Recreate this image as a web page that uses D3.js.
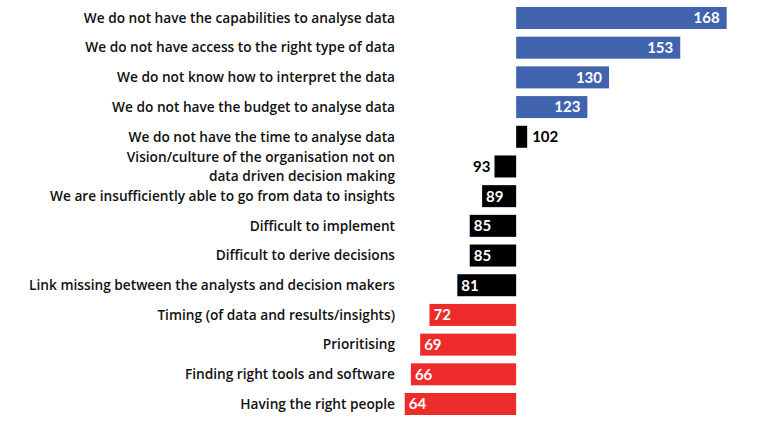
<!DOCTYPE html>
<html>
<head>
<meta charset="utf-8">
<script src="https://cdn.jsdelivr.net/npm/d3@7"></script>
<style>
  html, body { margin: 0; padding: 0; background: #ffffff; }
  svg { display: block; }
</style>
</head>
<body>
<svg id="chart" width="760" height="427"></svg>
<script>
const categories = [
  "We do not have the capabilities to analyse data",
  "We do not have access to the right type of data",
  "We do not know how to interpret the data",
  "We do not have the budget to analyse data",
  "We do not have the time to analyse data",
  "Vision/culture of the organisation not on|data driven decision making",
  "We are insufficiently able to go from data to insights",
  "Difficult to implement",
  "Difficult to derive decisions",
  "Link missing between the analysts and decision makers",
  "Timing (of data and results/insights)",
  "Prioritising",
  "Finding right tools and software",
  "Having the right people"
];
const values = [168, 153, 130, 123, 102, 93, 89, 85, 85, 81, 72, 69, 66, 64];
const tiers = ["high", "high", "high", "high", "mid", "mid", "mid", "mid", "mid", "mid", "low", "low", "low", "low"];
const baseline = 100;

const data = categories.map((c, i) => ({ cat: c, value: values[i], tier: tiers[i], i }));

const svg = d3.select("#chart");
const x = d3.scaleLinear().domain([64, 168]).range([404.7, 726.7]);
const y = d3.scaleBand().domain(d3.range(categories.length)).range([7, 415]).paddingInner(0.259).paddingOuter(0);
const color = d3.scaleOrdinal().domain(["high", "mid", "low"]).range(["#4163ae", "#000000", "#ee2b2b"]);

const bars = svg.append("g");
bars.selectAll("rect").data(data).join("rect")
  .attr("x", d => Math.min(x(d.value), x(baseline)))
  .attr("y", d => y(d.i))
  .attr("width", d => Math.max(Math.abs(x(d.value) - x(baseline)), 11))
  .attr("height", y.bandwidth())
  .attr("fill", d => color(d.tier));

const valFont = "Lato, 'Open Sans', sans-serif";
const vals = svg.append("g").attr("font-family", valFont).attr("font-weight", 700).attr("font-size", 15);
data.forEach(d => {
  const w = Math.abs(x(d.value) - x(baseline));
  const cy = y(d.i) + y.bandwidth() / 2;
  const t = vals.append("text").attr("y", cy).attr("dy", "0.36em").text(d.value);
  if (d.value >= baseline) {
    if (w > 30) {
      t.attr("x", x(d.value) - 7).attr("text-anchor", "end").attr("fill", "#fff");
    } else {
      t.attr("x", x(baseline) + Math.max(w, 11) + 5).attr("text-anchor", "start").attr("fill", "#000");
    }
  } else {
    if (w > 30) {
      t.attr("x", x(d.value) + 4).attr("text-anchor", "start").attr("fill", "#fff");
    } else {
      t.attr("x", x(d.value) - 4).attr("text-anchor", "end").attr("fill", "#000");
    }
  }
});

const labs = svg.append("g").attr("font-family", "'Open Sans', sans-serif").attr("font-weight", 600).attr("font-size", 13.7).attr("fill", "#111").attr("text-anchor", "end");
data.forEach(d => {
  const lines = d.cat.split("|");
  const cy = y(d.i) + y.bandwidth() / 2;
  const lh = 18.8;
  lines.forEach((ln, k) => {
    labs.append("text")
      .attr("x", 395)
      .attr("y", cy + (k - (lines.length - 1) / 2) * lh)
      .attr("dy", "0.35em")
      .text(ln);
  });
});
</script>
</body>
</html>
